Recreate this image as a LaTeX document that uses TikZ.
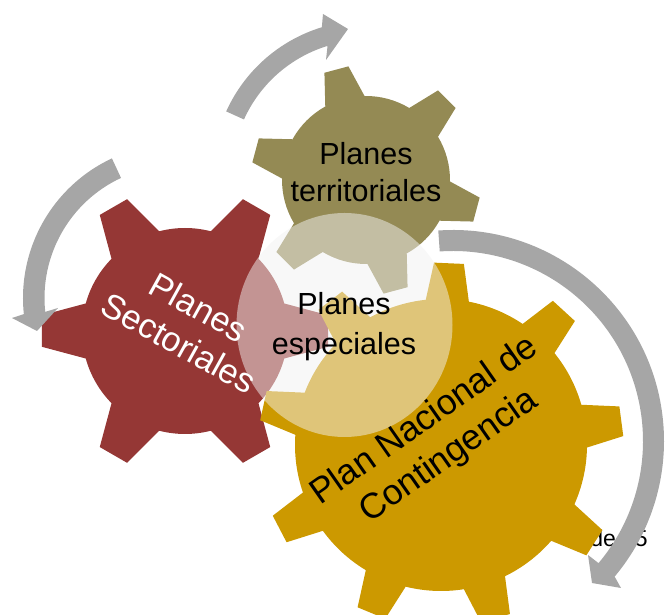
\documentclass[tikz,border=0pt]{standalone}
\usepackage{fontspec}
\setmainfont{Liberation Sans}
\usetikzlibrary{calc}
\definecolor{olivegear}{HTML}{948A54}
\definecolor{redgear}{HTML}{953735}
\definecolor{goldgear}{HTML}{CC9900}
\definecolor{arrowgray}{HTML}{A6A6A6}
\definecolor{hubgray}{HTML}{F2F2F2}
\tikzset{
    gearlabel/.style={
           align=center,
           inner sep=0pt,
           text=black,
           font=\fontsize{30.5}{37}\selectfont,
           },
    hub/.style={
           fill=hubgray,
           fill opacity=0.5,
           },
    bigarrow/.style={
           fill=arrowgray,
           },
}
% #1 colour, #2 centre, #3 body radius, #4 tip radius, #5 half tip, #6 half base, #7 step, #8 tooth angles
\newcommand{\gearshape}[8]{
  \fill[#1,shift={(#2)}] \foreach \a in {#8}{
    (\a-#6:#3) -- (\a-#5:#4) -- (\a+#5:#4) -- (\a+#6:#3)
    arc[start angle=\a+#6,end angle=\a+#7-#6,radius=#3] -- (\a+#7-#6:#3) -- (0,0) -- cycle
  };
}
\begin{document}
\begin{tikzpicture}[x=1pt,y=1pt]
\useasboundingbox (0,0) rectangle (672,615);
\clip (0,0) rectangle (672,615);
\node[gearlabel,anchor=east,font=\fontsize{23}{27}\selectfont] (page) at (648,77) {de 75};
\gearshape{olivegear}{366,435}{84}{115}{6.2}{14}{60}{-135,-75,-15,45,105,165}
\gearshape{redgear}{185,284}{103}{144}{6.3}{15.5}{60}{-120,-60,0,60,120,180}
\gearshape{goldgear}{441,170}{146}{182.5}{4.7}{8.5}{40}{-152.5,-112.5,-72.5,-32.5,7.5,47.5,87.5,127.5,167.5}
\coordinate (rightc) at (453,174);
\coordinate (rightout) at (588,60);
\coordinate (righttip) at (592,32);
\coordinate (rightin) at (621,27);
\fill[bigarrow] ($(rightc)+(94:211)$) arc[start angle=94,end angle=-40,radius=211] -- (rightin) -- (righttip) -- (rightout)
  -- ($(rightc)+(-40:190)$) arc[start angle=-40,end angle=94,radius=190] -- cycle;
\coordinate (topc) at (367,440);
\coordinate (topout) at (323,601);
\coordinate (toptip) at (348,586);
\coordinate (topin) at (326,555);
\fill[bigarrow] ($(topc)+(155.7:154.5)$) arc[start angle=155.7,end angle=107,radius=154.5] -- (topout) -- (toptip) -- (topin)
  -- ($(topc)+(107:135)$) arc[start angle=107,end angle=155.7,radius=135] -- cycle;
\coordinate (leftc) at (177,317);
\coordinate (leftout) at (12,297);
\coordinate (lefttip) at (37,284);
\coordinate (leftin) at (58,307);
\fill[bigarrow] ($(leftc)+(115:154)$) arc[start angle=115,end angle=186,radius=154] -- (leftout) -- (lefttip) -- (leftin)
  -- ($(leftc)+(186:132.5)$) arc[start angle=186,end angle=115,radius=132.5] -- cycle;
\fill[hub] (344.5,290) ellipse (108 and 112);
\node[gearlabel] (territoriales) at (366,443) {Planes\\territoriales};
\node[gearlabel,text=white,rotate=-29,font=\fontsize{34.5}{41}\selectfont] (sectoriales) at (189,290) {Planes\\Sectoriales};
\node[gearlabel,rotate=35,font=\fontsize{35.5}{43}\selectfont] (nacional) at (437,176) {Plan Nacional de\\Contingencia};
\node[gearlabel] (especiales) at (344,288) {Planes\\[3pt]especiales};
\end{tikzpicture}
\end{document}
